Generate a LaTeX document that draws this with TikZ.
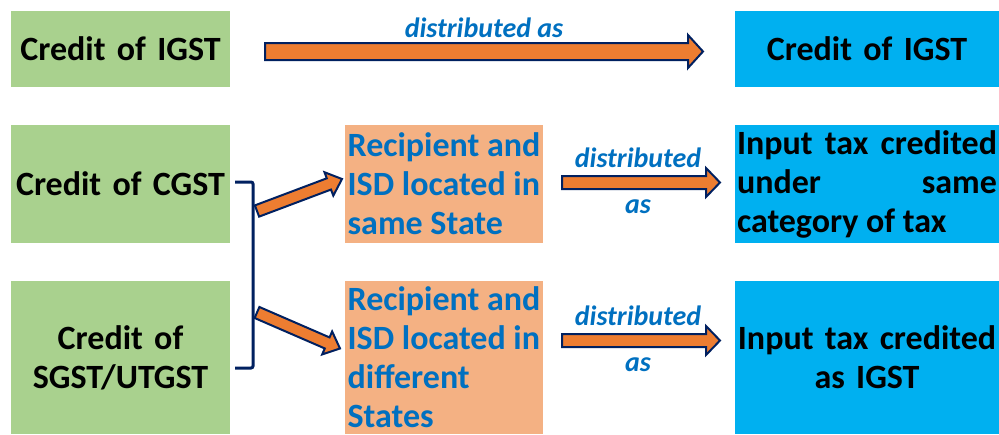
\documentclass[tikz,border=0pt]{standalone}
\usepackage{fontspec}
\setmainfont{Carlito}
\usepackage{xcolor}
\usetikzlibrary{positioning,calc}

\definecolor{boxgreen}{HTML}{A9D18E}
\definecolor{boxorange}{HTML}{F4B183}
\definecolor{boxblue}{HTML}{00B0F0}
\definecolor{arroworange}{HTML}{ED7D31}
\definecolor{arrownavy}{HTML}{002060}
\definecolor{textblue}{HTML}{0070C0}

% block arrow from #1 to #2: half body #3, half head #4, head length #5
\newcommand{\fatarrow}[5]{%
  \coordinate (hb) at ($(#2)!#5!(#1)$);
  \draw[fatline] ($(#1)!#3!90:(#2)$) -- ($(hb)!#3!90:(#2)$) -- ($(hb)!#4!90:(#2)$) -- (#2)
    -- ($(hb)!#4!-90:(#2)$) -- ($(hb)!#3!-90:(#2)$) -- ($(#1)!#3!-90:(#2)$) -- cycle;}

\begin{document}
\begin{tikzpicture}[x=1pt, y=-1pt, node distance=38pt,
    box/.style={inner sep=2pt, outer sep=0pt, font=\fontsize{34}{39}\selectfont\bfseries},
    greenbox/.style={box, fill=boxgreen, text width=215pt, align=center},
    orangebox/.style={box, fill=boxorange, inner xsep=1pt, minimum width=198pt, align=left, text=textblue},
    bluebox/.style={box, fill=boxblue, text width=260pt, align=center},
    lbl/.style={inner sep=0pt, font=\fontsize{28}{32}\selectfont\bfseries\itshape, text=textblue},
    fatline/.style={draw=arrownavy, fill=arroworange, line width=2pt, line join=miter},
    bracket/.style={draw=arrownavy, line width=3pt, rounded corners=2pt}]
    \useasboundingbox (0,0) rectangle (999,434);

    \node[greenbox, minimum height=76pt] (igst_src) at (120.5,49) {Credit of IGST};
    \node[greenbox, minimum height=118pt, below=of igst_src] (cgst) {Credit of CGST};
    \node[greenbox, minimum height=153pt, below=of cgst] (sgst) {Credit of\\SGST/UTGST};
    \node[orangebox, minimum height=118pt, right=115pt of cgst] (same_state) {Recipient and\\ISD located in\\same State};
    \node[orangebox, minimum height=153pt, right=115pt of sgst] (diff_state) {Recipient and\\ISD located in\\different\\States};
    \node[bluebox, align=justify, minimum height=118pt, right=192pt of same_state] (same_cat) {Input tax credited\linebreak under same\linebreak category of tax};
    \node[bluebox, minimum height=153pt, right=192pt of diff_state] (as_igst) {Input tax credited\\as IGST};
    \node[bluebox, minimum height=76pt, above=of same_cat] (igst_out) {Credit of IGST};

    \coordinate (top_from) at ($(igst_src.east)+(35,2.5)$);
    \coordinate (top_to) at ($(igst_out.west)+(-32,2.5)$);
    \coordinate (st_from) at ($(same_state.east)+(19,-1.5)$);
    \coordinate (st_to) at ($(same_cat.west)+(-15,-1.5)$);
    \coordinate (df_from) at ($(diff_state.east)+(19,-17)$);
    \coordinate (df_to) at ($(as_igst.west)+(-15,-17)$);
    \coordinate (up_from) at ($(cgst.east)+(27,27)$);
    \coordinate (up_to) at ($(same_state.west)+(-3,-5)$);
    \coordinate (dn_from) at ($(sgst.east)+(27,-45)$);
    \coordinate (dn_to) at ($(diff_state.west)+(-5,-9)$);
    \coordinate (br_top) at ($(cgst.east)+(5,-2)$);
    \coordinate (br_bot) at ($(sgst.east)+(5,10.5)$);

    \fatarrow{top_from}{top_to}{8.5pt}{16.5pt}{15pt}
    \fatarrow{st_from}{st_to}{6.5pt}{14.5pt}{14pt}
    \fatarrow{df_from}{df_to}{6.5pt}{14.5pt}{14pt}
    \fatarrow{up_from}{up_to}{6pt}{12.5pt}{14pt}
    \fatarrow{dn_from}{dn_to}{6pt}{12.5pt}{14pt}
    \draw[bracket] (br_top) -- ++(18,0) |- (br_bot);

    \node[lbl, anchor=base] (dist_top) at ($(top_from)!0.5!(top_to)+(0,-14.5)$) {distributed as};
    \node[lbl, anchor=base] (dist_st) at ($(st_from)!0.5!(st_to)+(-3,-15.5)$) {distributed};
    \node[lbl, anchor=base] (as_st) at ($(st_from)!0.5!(st_to)+(-3,30.5)$) {as};
    \node[lbl, anchor=base] (dist_df) at ($(df_from)!0.5!(df_to)+(-3,-15.5)$) {distributed};
    \node[lbl, anchor=base] (as_df) at ($(df_from)!0.5!(df_to)+(-3,30.5)$) {as};
\end{tikzpicture}
\end{document}
